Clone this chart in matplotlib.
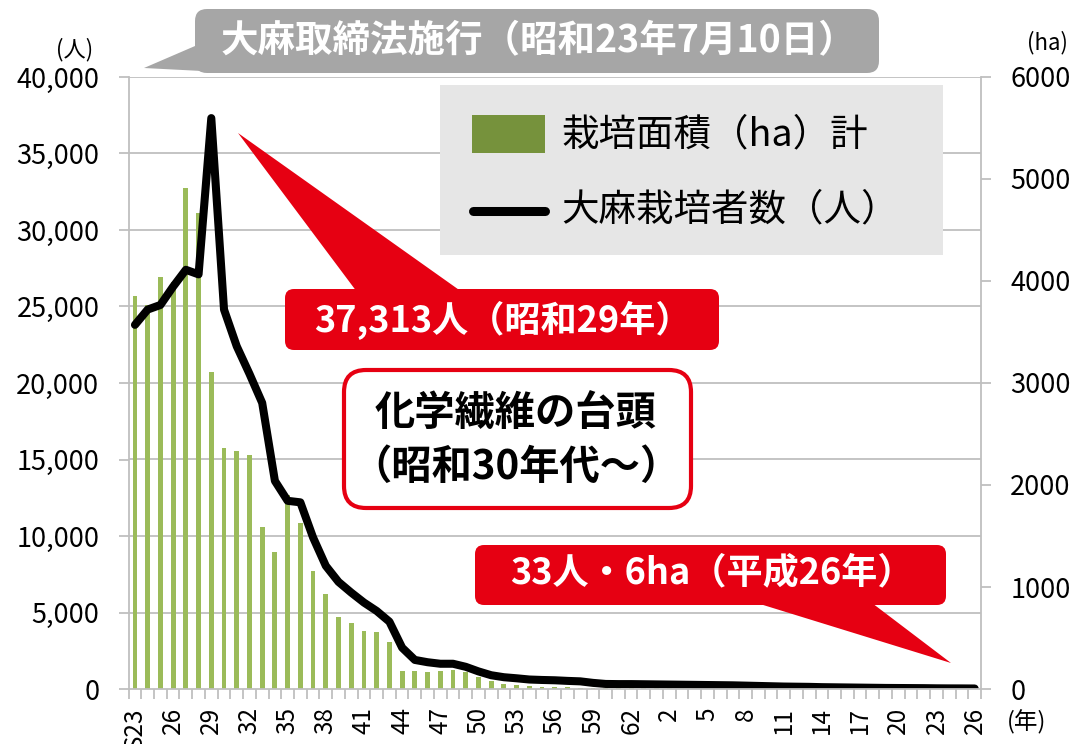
import matplotlib
matplotlib.use("Agg")
import matplotlib.pyplot as plt
import numpy as np
from matplotlib.patches import FancyBboxPatch, Polygon, Rectangle
from matplotlib.lines import Line2D
from matplotlib.transforms import IdentityTransform

plt.rcParams['font.family'] = ['Noto Sans CJK JP', 'DejaVu Sans']

# 年（昭和23年〜平成26年）
years = ['S23'] + [str(y) for y in range(24, 64)] + [str(y) for y in range(1, 27)]

# 大麻栽培者数（人）
growers = [23800, 24800, 25100, 26300, 27400, 27100, 37313, 24800, 22400, 20600,
           18700, 13600, 12300, 12200, 9900, 8050, 7000, 6300, 5650, 5100,
           4400, 2700, 1900, 1750, 1650, 1650, 1450, 1150, 900, 770,
           700, 620, 590, 570, 530, 500, 400, 330, 320, 320,
           310, 300, 290, 280, 270, 260, 250, 240, 220, 200,
           180, 160, 150, 140, 120, 110, 100, 90, 80, 70,
           65, 60, 55, 45, 40, 38, 33]

# 栽培面積（ha）計
area = [3856, 3765, 4040, 3990, 4910, 4667, 3108, 2360, 2336, 2296,
        1590, 1340, 1900, 1625, 1156, 936, 708, 648, 568, 560,
        456, 180, 180, 165, 180, 190, 165, 115, 76, 50,
        36, 30, 23, 23, 17, 12, 10, 10, 9, 9,
        9, 8, 8, 8, 8, 8, 8, 7, 7, 7,
        7, 7, 7, 7, 7, 7, 6, 6, 6, 6,
        6, 6, 6, 6, 6, 6, 6]

W, H = 1078, 744
GRAY = '#bfbfbf'
RED = '#e60012'

fig = plt.figure(figsize=(W / 100, H / 100), dpi=100)
ax = fig.add_axes([128.6 / W, (H - 689) / H, (981 - 128.6) / W, (689 - 77) / H])
ax2 = ax.twinx()
ax.set_zorder(1)
ax.patch.set_visible(False)

x = np.arange(len(years))

# 目盛線（左軸の値に合わせる）
for v in range(5000, 40001, 5000):
    ax2.axhline(v * 6000 / 40000, color=GRAY, lw=1.3, zorder=0)
ax2.bar(x, area, width=0.38, color='#9bbb59', zorder=2)
ax.plot(x, growers, color='black', lw=5.8, solid_joinstyle='round', solid_capstyle='round')

ax.set_xlim(-0.5, len(years) - 0.5)
ax.set_ylim(0, 40000)
ax2.set_ylim(0, 6000)

ax.set_yticks(range(0, 40001, 5000))
ax.set_yticklabels([f'{v:,}' for v in range(0, 40001, 5000)])
ax2.set_yticks(range(0, 6001, 1000))

ax.set_xticks(np.arange(-0.5, len(years), 1))
ax.set_xticklabels([])
ax.set_xticks(x[::3], [years[i] for i in x[::3]], minor=True)
ax.tick_params(axis='x', which='major', length=7, color=GRAY, width=1.3)
ax.tick_params(axis='x', which='minor', length=0, pad=13, labelsize=17.5, labelrotation=90)
ax.tick_params(axis='y', length=7, color=GRAY, width=1.3, pad=14, labelsize=19.5)
ax2.tick_params(axis='y', length=7, color=GRAY, width=1.3, pad=14, labelsize=19.5)

for a in (ax, ax2):
    a.spines['top'].set_visible(False)
    for s in a.spines.values():
        s.set_color(GRAY)
        s.set_linewidth(1.3)
ax.spines['right'].set_visible(False)
ax2.spines['left'].set_visible(False)
ax2.spines['bottom'].set_visible(False)

T = IdentityTransform()


def box(x0, y0, x1, y1, r, fc, ec='none', lw=0):
    p = FancyBboxPatch((x0, H - y1), x1 - x0, y1 - y0,
                       boxstyle=f'round,pad=0,rounding_size={r}',
                       fc=fc, ec=ec, lw=lw, transform=T, zorder=5)
    fig.add_artist(p)


def tail(pts, fc):
    fig.add_artist(Polygon([(px, H - py) for px, py in pts], closed=True,
                           fc=fc, ec='none', transform=T, zorder=5))


def label(px, py, s, **kw):
    fig.text(px, H - py, s, transform=T, zorder=10, **kw)


# 軸の単位
label(75, 50, '(人)', fontsize=16, ha='center', va='center')
label(1027, 43, '(ha)', fontsize=16, ha='left', va='center')
label(1027, 722, '(年)', fontsize=17, ha='center', va='center')

# 凡例
fig.add_artist(Rectangle((440, H - 255), 503, 170, fc='#e6e6e6', ec='none',
                         transform=T, zorder=5))
fig.add_artist(Rectangle((472, H - 153), 73, 38, fc='#76923c', ec='none',
                         transform=T, zorder=6))
fig.add_artist(Line2D([473, 545], [H - 211, H - 211], color='black', lw=6.5,
                      solid_capstyle='round', transform=T, zorder=6))
label(561, 135, '栽培面積（ha）計', fontsize=27, ha='left', va='center')
label(561, 210, '大麻栽培者数（人）', fontsize=27, ha='left', va='center')

# 大麻取締法施行
box(195, 9, 879, 73, 12, '#a6a6a6')
tail([(144, 68), (202, 43), (202, 71)], '#a6a6a6')
label(538, 41, '大麻取締法施行（昭和23年7月10日）', fontsize=27, fontweight='bold',
      color='white', ha='center', va='center')

# 37,313人
box(285, 289, 719, 350, 9, RED)
tail([(238, 133), (357, 292), (462, 292)], RED)
label(503, 320, '37,313人（昭和29年）', fontsize=26, fontweight='bold',
      color='white', ha='center', va='center')

# 化学繊維の台頭
box(344, 370, 691, 508, 22, 'white', ec=RED, lw=3)
label(516, 414, '化学繊維の台頭', fontsize=29, fontweight='bold', ha='center', va='center')
label(516, 467, '（昭和30年代～）', fontsize=29, fontweight='bold', ha='center', va='center')

# 33人・6ha
box(475, 545, 946, 605, 9, RED)
tail([(747, 600), (868, 600), (951, 663)], RED)
label(712, 573, '33人・6ha（平成26年）', fontsize=26, fontweight='bold',
      color='white', ha='center', va='center')

fig.savefig('out.png', dpi=100)
